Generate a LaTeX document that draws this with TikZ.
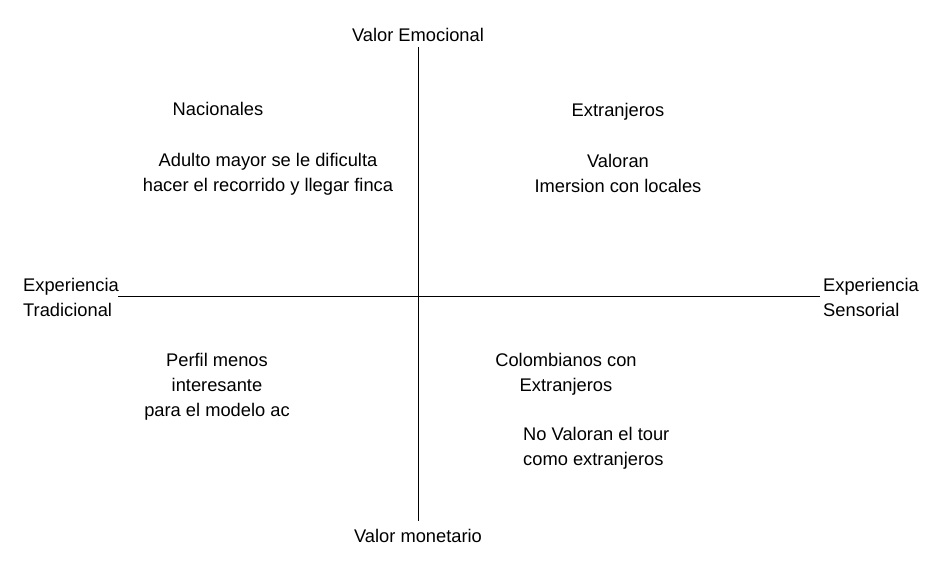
\documentclass[tikz,border=0pt]{standalone}
\usepackage{fontspec}
\setmainfont{Liberation Sans}
\begin{document}
\begin{tikzpicture}[x=1pt,y=-1pt,
  lbl/.style={font=\fontsize{18.3}{25}\selectfont, inner sep=0pt, text=black},
  axis/.style={draw=black, line width=1pt}]
\useasboundingbox (0,0) rectangle (934,564);
\fill[white] (0,0) rectangle (934,564);
\coordinate (vt) at (418,47);
\coordinate (vb) at (418,521);
\coordinate (hl) at (118,296);
\coordinate (hr) at (820,296);
\draw[axis] (vt) -- (vb);
\draw[axis] (hl) -- (hr);
\node[lbl] (top) at (418,35) {Valor Emocional};
\node[lbl] (bot) at (418,536) {Valor monetario};
\node[lbl, anchor=west, align=left] (left) at (23,297.5) {Experiencia\\Tradicional};
\node[lbl, anchor=west, align=left] (right) at (823,297.5) {Experiencia\\Sensorial};
\node[lbl] (nac) at (218,109) {Nacionales};
\node[lbl] (ext) at (618,112) {Extranjeros};
\node[lbl, align=center] (adulto) at (268,174) {Adulto mayor se le dificulta\\hacer el recorrido y llegar finca};
\node[lbl, align=center] (valoran) at (618,173) {Valoran\\Imersion con locales};
\node[lbl, align=center] (perfil) at (217,387) {Perfil menos\\interesante\\para el modelo ac};
\node[lbl, align=center] (col) at (566,374) {Colombianos con\\Extranjeros};
\node[lbl, anchor=west, align=left] (nov) at (523,448.5) {No Valoran el tour\\como extranjeros};
\end{tikzpicture}
\end{document}
